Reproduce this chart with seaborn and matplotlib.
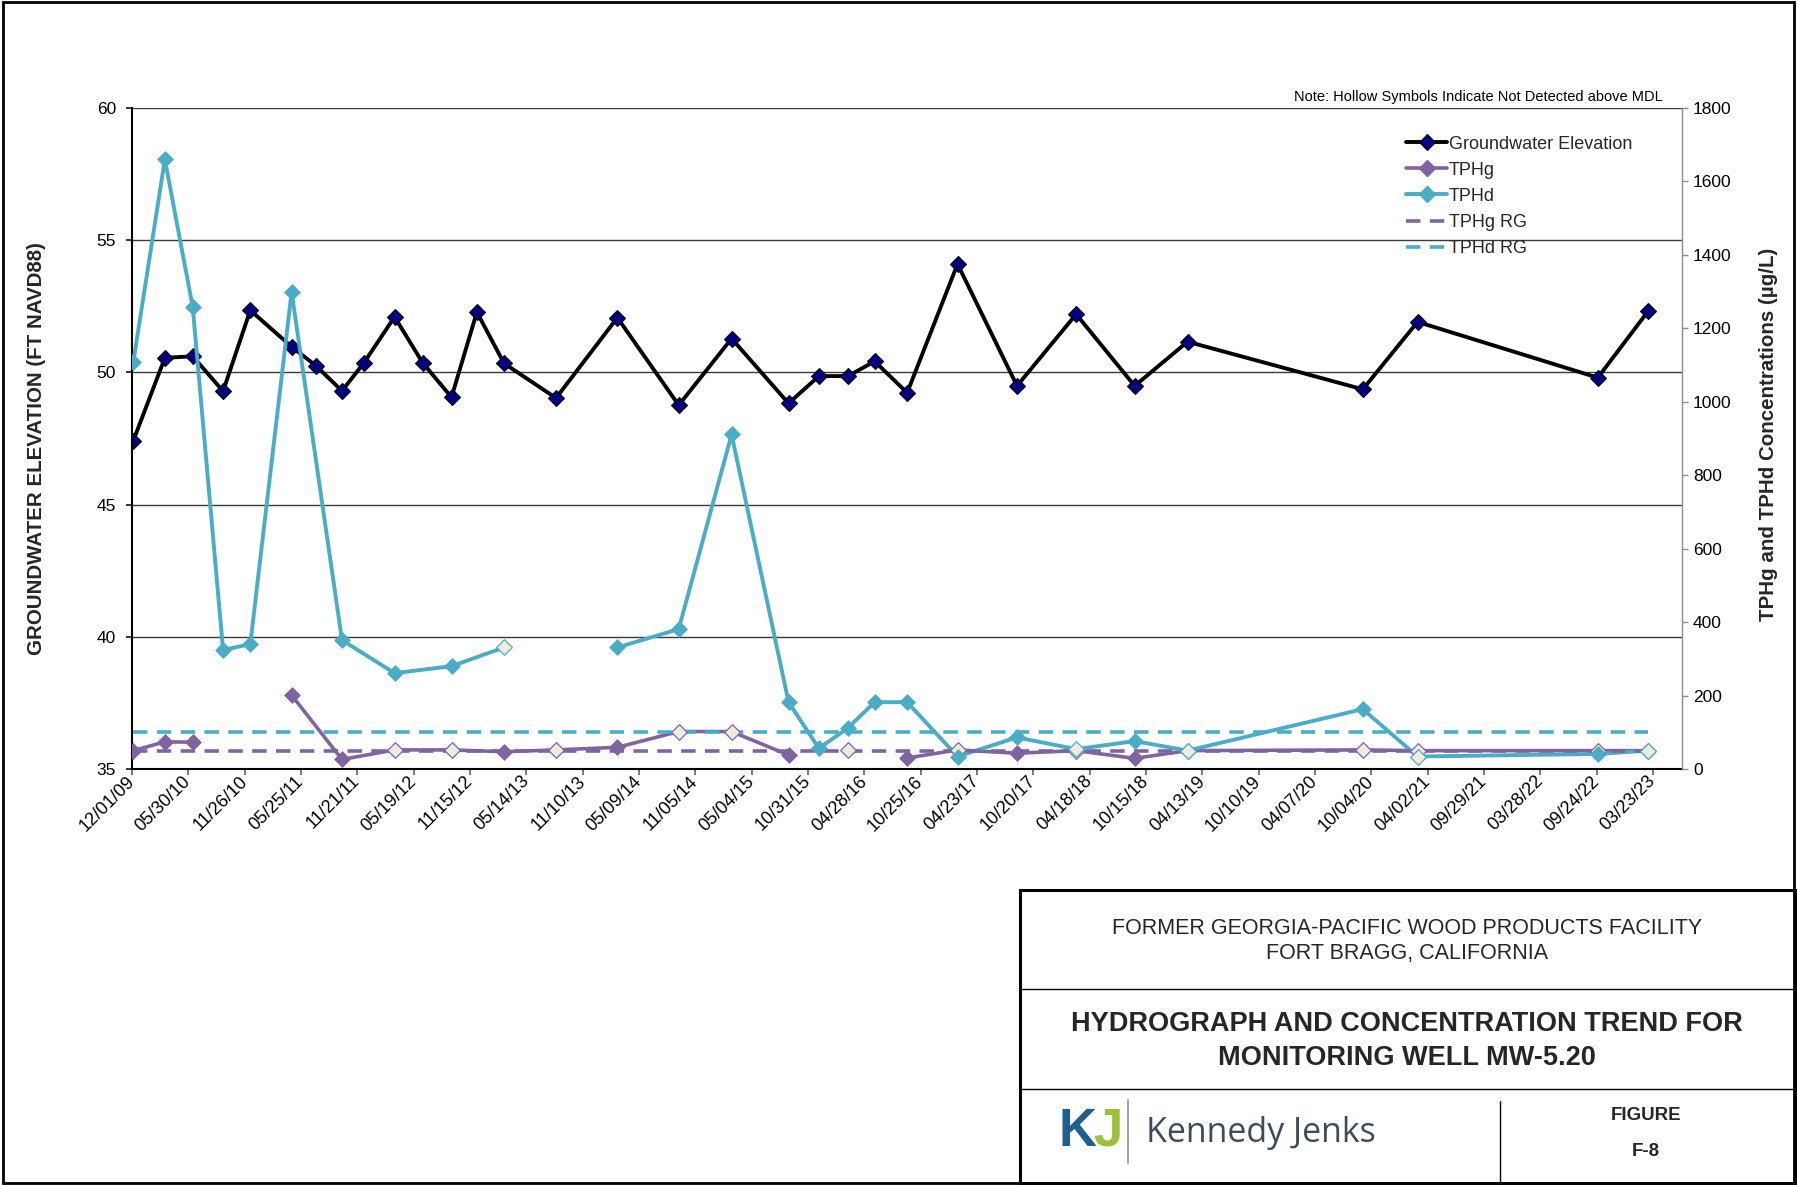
import numpy as np
import pandas as pd
import matplotlib
matplotlib.use("Agg")
import matplotlib.pyplot as plt
import matplotlib.dates as mdates
from matplotlib.lines import Line2D
from matplotlib.patches import Rectangle
import seaborn as sns

# monitoring events (gauging + sampling), MW-5.20
sample_dates = [
    "2009-12-05", "2010-03-16", "2010-06-13", "2010-09-18", "2010-12-14",
    "2011-04-25", "2011-07-11", "2011-10-03", "2011-12-12", "2012-03-19",
    "2012-06-17", "2012-09-17", "2012-12-07", "2013-03-04", "2013-08-17",
    "2014-03-01", "2014-09-13", "2015-03-01", "2015-08-30", "2015-12-05",
    "2016-03-07", "2016-05-31", "2016-09-12", "2017-02-20", "2017-08-29",
    "2018-03-06", "2018-09-09", "2019-02-25", "2020-09-07", "2021-03-01",
    "2022-09-28", "2023-03-08",
]
gw_elev = [
    47.41, 50.55, 50.61, 49.29, 52.35, 50.97, 50.26, 49.30, 50.36, 52.10,
    50.36, 49.06, 52.28, 50.34, 49.03, 52.07, 48.76, 51.28, 48.83, 49.86,
    49.86, 50.42, 49.23, 54.10, 49.49, 52.20, 49.49, 51.16, 49.36, 51.91,
    49.80, 52.32,
]
nan = np.nan
tphg = [
    50, 74, 73, nan, nan, 201, nan, 26, nan, 52,
    nan, 52, nan, 47, 52, 59, 102, 102, 38, nan,
    52, nan, 30, 52, 43, 50, 29, 50, 52, 50,
    50, 50,
]
# 1 = not detected above MDL (hollow symbol)
tphg_nd = [
    0, 0, 0, 0, 0, 0, 0, 0, 0, 1,
    0, 1, 0, 0, 1, 0, 1, 1, 0, 0,
    1, 0, 0, 1, 0, 1, 0, 1, 1, 1,
    1, 1,
]
tphd = [
    1107, 1660, 1258, 324, 340, 1299, nan, 351, nan, 261,
    nan, 280, nan, 331, nan, 331, 381, 911, 182, 56,
    112, 182, 182, 34, 86, 54, 76, 50, 163, 34,
    41, 50,
]
tphd_nd = [
    0, 0, 0, 0, 0, 0, 0, 0, 0, 0,
    0, 0, 0, 1, 0, 0, 0, 0, 0, 0,
    0, 0, 0, 0, 0, 1, 0, 1, 0, 1,
    0, 1,
]
tphg_rg = 50
tphd_rg = 100

tick_start = "2009-12-01"
tick_step_days = 180
n_ticks = 28
x_end = "2023-06-24"

PURPLE = "#8064A2"
CYAN = "#4BACC6"
NAVY = "#000080"
HOLLOW = "#EEECE1"

sns.set_theme(style="white")
plt.rcParams['font.family'] = ['Liberation Sans', 'DejaVu Sans']
NARROW = ['Liberation Sans Narrow', 'Liberation Sans', 'DejaVu Sans']

df = pd.DataFrame({
    'date': pd.to_datetime(sample_dates),
    'gw': gw_elev,
    'tphg': tphg,
    'tphg_nd': tphg_nd,
    'tphd': tphd,
    'tphd_nd': tphd_nd,
})

fig = plt.figure(figsize=(17.97, 11.85), dpi=100)
W, H = 1797, 1185


def fx(x):
    return x / W


def fy(y):
    return 1 - y / H


ax = fig.add_axes([fx(132), fy(769), fx(1682) - fx(132), fy(108) - fy(769)])
ax2 = ax.twinx()

MS = 8
# groundwater elevation (left axis)
sns.lineplot(data=df, x='date', y='gw', ax=ax, color='black', lw=2.8,
             marker='D', markersize=MS, markerfacecolor=NAVY,
             markeredgecolor='black', markeredgewidth=0.8,
             estimator=None, legend=False)

# lab results: a missing value inside the lab record breaks the line
lab = df[df['tphg'].notna() | df['tphd'].notna()].copy()
for col, color, lw in [('tphg', PURPLE, 2.6), ('tphd', CYAN, 2.8)]:
    seg = lab[col].isna().cumsum()
    d = lab.assign(seg=seg).dropna(subset=[col])
    sns.lineplot(data=d, x='date', y=col, units='seg', estimator=None,
                 ax=ax2, color=color, lw=lw, legend=False)
    det = d[d[col + '_nd'] == 0]
    nd = d[d[col + '_nd'] == 1]
    sns.scatterplot(data=det, x='date', y=col, ax=ax2, marker='D', s=MS ** 2,
                    color=color, edgecolor=color, linewidth=0.6,
                    legend=False, zorder=4)
    sns.scatterplot(data=nd, x='date', y=col, ax=ax2, marker='D', s=MS ** 2,
                    color=HOLLOW, edgecolor=color, linewidth=0.9,
                    legend=False, zorder=4)

# regulatory goals
rg = pd.DataFrame({'date': [df['date'].min(), df['date'].max()]})
rg['tphg_rg'] = tphg_rg
rg['tphd_rg'] = tphd_rg
sns.lineplot(data=rg, x='date', y='tphd_rg', ax=ax2, color=CYAN, lw=2.6,
             legend=False)
sns.lineplot(data=rg, x='date', y='tphg_rg', ax=ax2, color=PURPLE, lw=2.6,
             legend=False)
for ln in ax2.lines[-2:]:
    ln.set_dashes([4, 2.6])

# axes
ticks = pd.date_range(tick_start, periods=n_ticks, freq=f'{tick_step_days}D')
ax.set_xlim(pd.Timestamp(tick_start), pd.Timestamp(x_end))
ax.set_ylim(35, 60)
ax2.set_ylim(0, 1800)
ax.set_xticks(ticks)
ax.xaxis.set_major_formatter(mdates.DateFormatter('%m/%d/%y'))
ax.set_yticks(np.arange(35, 61, 5))
ax2.set_yticks(np.arange(0, 1801, 200))
ax.set_xlabel('')
ax.set_ylabel('')
ax2.set_xlabel('')
ax2.set_ylabel('')

ax.yaxis.grid(True, color='#3a3a3a', lw=1.0)
ax.xaxis.grid(False)
ax2.grid(False)

for name, sp in ax.spines.items():
    sp.set_visible(name in ('left', 'bottom'))
    sp.set_color('black')
    sp.set_linewidth(1.5)
for name, sp in ax2.spines.items():
    sp.set_visible(name == 'right')
    sp.set_color('#8c8c8c')
    sp.set_linewidth(1.0)

ax.tick_params(axis='y', direction='out', length=4.5, width=1.1,
               color='black', labelsize=12.5, pad=7, left=True)
ax.tick_params(axis='x', direction='out', length=4, width=1.1,
               color='#555555', labelsize=13, pad=3, bottom=True)
ax2.tick_params(axis='y', direction='out', length=4, width=1.0,
                color='#8c8c8c', labelsize=12.5, pad=4, right=True)
for lab_t in ax.get_xticklabels():
    lab_t.set_rotation(45)
    lab_t.set_ha('right')
    lab_t.set_va('center')
    lab_t.set_rotation_mode('anchor')
for t in ax.get_yticklabels() + ax2.get_yticklabels() + ax.get_xticklabels():
    t.set_color('black')

# legend
handles = [
    Line2D([], [], color='black', lw=2.8, marker='D', markersize=MS,
           markerfacecolor=NAVY, markeredgecolor='black', markeredgewidth=0.8),
    Line2D([], [], color=PURPLE, lw=2.6, marker='D', markersize=MS,
           markerfacecolor=PURPLE, markeredgecolor=PURPLE),
    Line2D([], [], color=CYAN, lw=2.8, marker='D', markersize=MS,
           markerfacecolor=CYAN, markeredgecolor=CYAN),
    Line2D([], [], color=PURPLE, lw=2.6, dashes=[4, 2.6]),
    Line2D([], [], color=CYAN, lw=2.6, dashes=[4, 2.6]),
]
labels = ['Groundwater Elevation', 'TPHg', 'TPHd', 'TPHg RG', 'TPHd RG']
ax2.legend(handles, labels, loc='upper left', bbox_to_anchor=(0.822, 0.958),
           frameon=False, fontsize=13, handlelength=2.28, handletextpad=0.1,
           labelspacing=0.5, borderpad=0, borderaxespad=0)

fig.text(fx(1663), fy(97), 'Note: Hollow Symbols Indicate Not Detected above MDL',
         ha='right', va='center', fontsize=10.5, color='black')

fig.text(fx(37), fy(449), 'GROUNDWATER ELEVATION (FT NAVD88)', rotation=90,
         ha='center', va='center', fontsize=14.8, fontweight='bold', family=NARROW)
fig.text(fx(1768), fy(434), 'TPHg and TPHd Concentrations (µg/L)', rotation=90,
         ha='center', va='center', fontsize=14.8, fontweight='bold')

# page frame and title block
fig.patches.append(Rectangle((0.0015, 0.0015), 0.997, 0.997, transform=fig.transFigure,
                             fill=False, lw=2.0, edgecolor='black'))
fig.patches.append(Rectangle((fx(1020), fy(1183)), fx(1795) - fx(1020), fy(890) - fy(1183),
                             transform=fig.transFigure, fill=False, lw=2.2,
                             edgecolor='black'))
for yy in (989, 1089):
    fig.add_artist(Line2D([fx(1020), fx(1795)], [fy(yy), fy(yy)],
                          transform=fig.transFigure, color='black', lw=1.0))
fig.add_artist(Line2D([fx(1500), fx(1500)], [fy(1101), fy(1183)],
                      transform=fig.transFigure, color='black', lw=1.0))

cx = fx(1407)
fig.text(cx, fy(929), 'FORMER GEORGIA-PACIFIC WOOD PRODUCTS FACILITY', ha='center',
         va='center', fontsize=15.5, family=NARROW)
fig.text(cx, fy(953), 'FORT BRAGG, CALIFORNIA', ha='center', va='center',
         fontsize=15.5, family=NARROW)
fig.text(cx, fy(1024), 'HYDROGRAPH AND CONCENTRATION TREND FOR', ha='center',
         va='center', fontsize=19.5, fontweight='bold', family=NARROW)
fig.text(cx, fy(1058), 'MONITORING WELL MW-5.20', ha='center', va='center',
         fontsize=19.5, fontweight='bold', family=NARROW)
fig.text(fx(1646), fy(1116), 'FIGURE', ha='center', va='center', fontsize=13.5,
         fontweight='bold', family=NARROW)
fig.text(fx(1646), fy(1152), 'F-8', ha='center', va='center', fontsize=13.5,
         fontweight='bold', family=NARROW)

# Kennedy Jenks logo
fig.text(fx(1058), fy(1132), 'K', ha='left', va='center', fontsize=38,
         fontweight='bold', family=NARROW, color='#1f5f8e')
fig.text(fx(1093), fy(1132), 'J', ha='left', va='center', fontsize=38,
         fontweight='bold', family=NARROW, color='#9cc03c')
fig.add_artist(Line2D([fx(1128), fx(1128)], [fy(1100), fy(1163)],
                      transform=fig.transFigure, color='#9a9a9a', lw=1.3))
fig.text(fx(1146), fy(1133), 'Kennedy Jenks', ha='left', va='center', fontsize=24.5,
         family=['Open Sans', 'DejaVu Sans'], color='#3e4b58')

fig.savefig('out.png', dpi=100)
